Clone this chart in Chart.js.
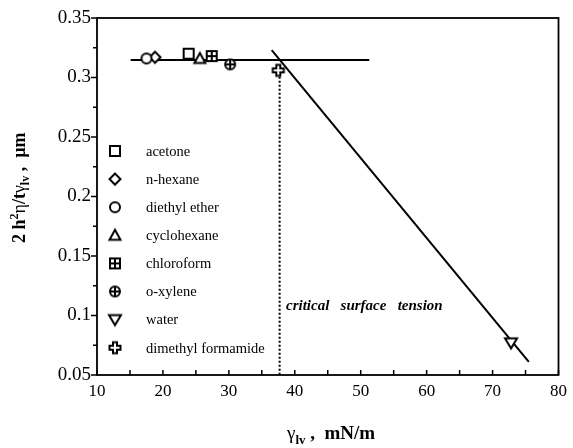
<!DOCTYPE html>
<html>
<head>
<meta charset="utf-8">
<script src="https://cdn.jsdelivr.net/npm/chart.js@4"></script>
<style>
  html, body { margin: 0; padding: 0; background: #fff; }
  #wrap { width: 573px; height: 448px; }
</style>
</head>
<body>
<div id="wrap"><canvas id="chart" width="573" height="448"></canvas></div>
<script>
// solvents and read-off values
const solvents = ['acetone', 'n-hexane', 'diethyl ether', 'cyclohexane', 'chloroform', 'o-xylene', 'water', 'dimethyl formamide'];
const markerKinds = ['square', 'diamond', 'circle', 'triangle', 'squareCross', 'circlePlus', 'triangleDown', 'crossOutline'];
const surfaceTension = [23.9, 18.8, 17.5, 25.6, 27.4, 30.2, 72.8, 37.5];
const ratioValues = [0.320, 0.317, 0.316, 0.316, 0.318, 0.311, 0.077, 0.306];

// fitted lines
const plateauX = [15.1, 51.3];
const plateauY = [0.3147, 0.3147];
const slopeX = [36.5, 75.5];
const slopeY = [0.323, 0.061];
const criticalX = [37.7, 37.7];
const criticalY = [0.304, 0.05];

const xTicks = [10, 20, 30, 40, 50, 60, 70, 80];
const yTicks = [0.05, 0.1, 0.15, 0.2, 0.25, 0.3, 0.35];

const serif = '"Liberation Serif", "Times New Roman", serif';

function makeMarker(kind) {
  const c = document.createElement('canvas');
  c.width = 16; c.height = 16;
  const g = c.getContext('2d');
  g.lineWidth = 2;
  g.strokeStyle = '#000';
  g.fillStyle = '#fff';
  g.translate(8, 8);
  g.beginPath();
  switch (kind) {
    case 'square':
    case 'squareCross':
      g.rect(-5, -5, 10, 10);
      break;
    case 'diamond':
      g.moveTo(0, -5.5); g.lineTo(5.5, 0); g.lineTo(0, 5.5); g.lineTo(-5.5, 0); g.closePath();
      break;
    case 'circle':
    case 'circlePlus':
      g.arc(0, 0, 5, 0, Math.PI * 2);
      break;
    case 'triangle':
      g.moveTo(0, -5.5); g.lineTo(5.5, 4.5); g.lineTo(-5.5, 4.5); g.closePath();
      break;
    case 'triangleDown':
      g.moveTo(-6, -4.5); g.lineTo(6, -4.5); g.lineTo(0, 5.5); g.closePath();
      break;
    case 'crossOutline':
      g.moveTo(-2, -5.5); g.lineTo(2, -5.5); g.lineTo(2, -2); g.lineTo(5.5, -2); g.lineTo(5.5, 2);
      g.lineTo(2, 2); g.lineTo(2, 5.5); g.lineTo(-2, 5.5); g.lineTo(-2, 2); g.lineTo(-5.5, 2);
      g.lineTo(-5.5, -2); g.lineTo(-2, -2); g.closePath();
      break;
  }
  g.fill();
  g.stroke();
  if (kind === 'squareCross' || kind === 'circlePlus') {
    g.beginPath();
    g.moveTo(-5, 0); g.lineTo(5, 0);
    g.moveTo(0, -5); g.lineTo(0, 5);
    g.stroke();
  }
  return c;
}

const markers = markerKinds.map(makeMarker);

// draw a run of text pieces (for sub/superscripts)
function drawRun(ctx, pieces, x, y) {
  let cx = x;
  pieces.forEach(p => {
    ctx.font = p.font;
    ctx.fillText(p.t, cx, y + (p.dy || 0));
    cx += ctx.measureText(p.t).width;
  });
}

const extras = {
  id: 'extras',
  afterDraw(chart) {
    const ctx = chart.ctx;
    const area = chart.chartArea;
    const xs = chart.scales.x;
    const ys = chart.scales.y;
    ctx.save();
    ctx.strokeStyle = '#000';
    ctx.fillStyle = '#000';

    // frame
    ctx.lineWidth = 1.8;
    ctx.strokeRect(area.left, area.top, area.right - area.left, area.bottom - area.top);

    // x ticks (inside), every 5
    ctx.lineWidth = 1.5;
    ctx.beginPath();
    for (let v = 10; v <= 80; v += 5) {
      const px = xs.getPixelForValue(v);
      ctx.moveTo(px, area.bottom);
      ctx.lineTo(px, area.bottom - 5);
    }
    // y ticks (outside), major + minor
    for (let v = 0.05; v <= 0.3501; v += 0.025) {
      const py = ys.getPixelForValue(v);
      const major = Math.abs(Math.round(v / 0.05) * 0.05 - v) < 1e-6;
      ctx.moveTo(area.left, py);
      ctx.lineTo(area.left - (major ? 6 : 4), py);
    }
    ctx.stroke();

    // legend
    ctx.textBaseline = 'middle';
    ctx.textAlign = 'left';
    solvents.forEach((name, i) => {
      const y = 151 + i * 28.1;
      ctx.drawImage(markers[i], 115 - 8, y - 8);
      ctx.font = '14.5px ' + serif;
      ctx.fillText(name, 146, y + 1);
    });

    // annotation
    ctx.textBaseline = 'alphabetic';
    ctx.font = 'italic bold 15px ' + serif;
    ctx.fillText('critical   surface   tension', 286, 310);

    // x title
    const b = 'bold 19px ' + serif;
    const bs = 'bold 13px ' + serif;
    const xt = [
      { t: 'γ', font: '19px ' + serif },
      { t: 'lv', font: bs, dy: 5 },
      { t: ' ,  mN/m', font: b }
    ];
    drawRun(ctx, xt, 287, 439);

    // y title, rotated
    const yb = 'bold 18px ' + serif;
    const ys2 = 'bold 12px ' + serif;
    const yt = [
      { t: '2 h', font: yb },
      { t: '2', font: ys2, dy: -7 },
      { t: 'η', font: '18px ' + serif },
      { t: '/t', font: yb },
      { t: 'γ', font: '18px ' + serif },
      { t: 'lv', font: ys2, dy: 4 },
      { t: ' ,  µm', font: yb }
    ];
    ctx.translate(25, 243);
    ctx.rotate(-Math.PI / 2);
    drawRun(ctx, yt, 0, 0);
    ctx.restore();
  }
};

new Chart(document.getElementById('chart'), {
  type: 'scatter',
  data: {
    datasets: [
      {
        label: 'solvents',
        data: surfaceTension.map((x, i) => ({ x: x, y: ratioValues[i] })),
        pointStyle: markers,
        pointRadius: 6,
        showLine: false
      },
      {
        label: 'plateau',
        data: plateauX.map((x, i) => ({ x: x, y: plateauY[i] })),
        showLine: true,
        borderColor: '#000',
        borderWidth: 2,
        pointRadius: 0
      },
      {
        label: 'slope',
        data: slopeX.map((x, i) => ({ x: x, y: slopeY[i] })),
        showLine: true,
        borderColor: '#000',
        borderWidth: 2,
        pointRadius: 0
      },
      {
        label: 'critical',
        data: criticalX.map((x, i) => ({ x: x, y: criticalY[i] })),
        showLine: true,
        borderColor: '#000',
        borderWidth: 2,
        borderDash: [2, 2],
        pointRadius: 0
      }
    ]
  },
  options: {
    responsive: false,
    animation: false,
    layout: { padding: { left: 0, right: 11, top: 18, bottom: 0 } },
    plugins: {
      legend: { display: false },
      tooltip: { enabled: false }
    },
    scales: {
      x: {
        type: 'linear',
        min: 10,
        max: 80,
        afterFit: s => { s.height = 73; },
        afterBuildTicks: s => { s.ticks = xTicks.map(v => ({ value: v })); },
        grid: { display: false, drawTicks: false },
        border: { display: false },
        ticks: { color: '#000', padding: 6, font: { family: serif, size: 17 }, maxRotation: 0 }
      },
      y: {
        type: 'linear',
        min: 0.05,
        max: 0.35,
        afterFit: s => { s.width = 97; },
        afterBuildTicks: s => { s.ticks = yTicks.map(v => ({ value: v })); },
        grid: { display: false, drawTicks: false },
        border: { display: false },
        ticks: {
          color: '#000',
          padding: 6,
          font: { family: serif, size: 19 },
          callback: v => String(Number(v.toFixed(2)))
        }
      }
    }
  },
  plugins: [extras]
});
</script>
</body>
</html>
